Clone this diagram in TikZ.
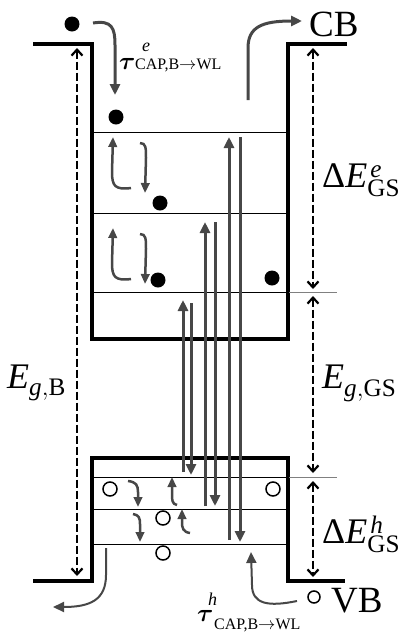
\documentclass[tikz,border=0pt]{standalone}
\usepackage{fontspec}
\setmainfont{Liberation Serif}
\usepackage{bm}
\usetikzlibrary{arrows.meta, positioning}

\begin{document}
\begin{tikzpicture}[x=1pt, y=-1pt,
  edge/.style={line width=3.4pt},
  lvl/.style={line width=1pt},
  gap/.style={line width=2.8pt, dash pattern=on 8pt off 3pt,
    {Straight Barb[length=6pt,width=11pt,line width=2.2pt]}-{Straight Barb[length=6pt,width=11pt,line width=2.2pt]}},
  jump/.style={line width=3pt, draw=black!72, -{Triangle[length=11pt,width=10pt]}},
  hop/.style={line width=2.5pt, draw=black!72, -{Triangle[length=10pt,width=8.5pt]}},
  elec/.style={circle, fill=black, inner sep=0pt, minimum size=15pt},
  hole/.style={circle, draw=black, line width=1.5pt, inner sep=0pt, minimum size=14pt}]
\useasboundingbox (0,0) rectangle (403,638);

% wells
\draw [edge] (33,44) -- (92,44) -- (92,339) -- (288,339) -- (288,44) -- (347,44);
\draw [edge] (33,581) -- (92,581) -- (92,458) -- (288,458) -- (288,581) -- (345,581);
\foreach \y in {132,213,292} {
  \draw [lvl] (93,\y) -- (287,\y);
}
\foreach \y in {477,509,544} {
  \draw [lvl] (93,\y) -- (287,\y);
}
\foreach \y in {292,477} {
  \draw [lvl, black!50] (289,\y) -- (337,\y);
}

% gaps
\draw [gap] (77,48) -- (77,576);
\draw [gap] (313,48) -- (313,289);
\draw [gap] (313,296) -- (313,473);
\draw [gap] (313,481) -- (313,577);

% carriers
\node [elec] (e0) at (72,24) {};
\node [elec] (e1) at (116,117) {};
\node [elec] (e2) at (160,203) {};
\node [elec] (e3) at (158,280) {};
\node [elec] (e4) at (272,278) {};
\node [hole] (h1) at (110,489) {};
\node [hole] (h2) at (273,489) {};
\node [hole] (h3) at (163,518) {};
\node [hole] (h4) at (163,553) {};
\node [hole, minimum size=12pt] (h0) at (314,597) {};

% capture and escape
\draw [jump] (93,23) .. controls (112,20) and (115,28) .. (115,45) -- (115,95);
\draw [jump] (248,100) -- (248,48) .. controls (248,27) and (262,21) .. (302,21);
\draw [jump, line width=2pt] (106,548) -- (106,575) .. controls (106,600) and (90,607) .. (53,607);
\draw [jump, line width=2pt] (297,601) .. controls (268,607) and (252,604) .. (252,585) -- (251,552);

% relaxation
\foreach \y in {0,91} {
  \draw [hop] (131,188+\y) .. controls (115,190+\y) and (112,186+\y) .. (112,172+\y) -- (113,137+\y);
  \draw [hop] (140,143+\y) .. controls (146,143+\y) and (146,148+\y) .. (146,158+\y) -- (145,193+\y);
}
\draw [hop] (128,481) .. controls (136,482) and (138,485) .. (138,492) -- (138,507);
\draw [hop] (133,514) .. controls (139,515) and (140,518) .. (140,524) -- (140,542);
\draw [hop] (177,505) .. controls (172,504) and (172,500) .. (172,494) -- (172,477);
\draw [hop] (190,533) .. controls (183,532) and (182,528) .. (182,522) -- (182,509);

% transitions
\draw [jump] (183,472) -- (183,300);
\draw [jump] (191,303) -- (191,475);
\draw [jump] (205,506) -- (205,222);
\draw [jump] (215,222) -- (215,506);
\draw [jump] (229,540) -- (229,137);
\draw [jump] (240,137) -- (240,542);

\begin{scope}[every node/.style={inner sep=0pt, anchor=base west}]
\node [font=\fontsize{37}{38}\selectfont] (cb) at (309,36) {CB};
\node [font=\fontsize{37}{38}\selectfont] (vb) at (331,612) {VB};
\node [font=\fontsize{36}{38}\selectfont] (dee) at (322,187) {Δ\textit{E}$^{\kern3pt\mathit{e}}_{\mathrm{GS}}$};
\node [font=\fontsize{36}{38}\selectfont] (deh) at (322,543) {Δ\textit{E}$^{\kern3pt\mathit{h}}_{\mathrm{GS}}$};
\node [font=\fontsize{36}{38}\selectfont] (egs) at (322,388) {\textit{E}$_{\mathit{g},\mathrm{GS}}$};
\node [font=\fontsize{36}{38}\selectfont] (egb) at (7,388) {\textit{E}$_{\mathit{g},\mathrm{B}}$};
\node [font=\fontsize{30}{30}\selectfont] (taue) at (119,69) {$\bm{\tau}$};
\node [font=\fontsize{18}{18}\selectfont] (tauesup) at (142,51) {\textit{e}};
\node [font=\fontsize{16}{16}\selectfont] (tauesub) at (135,69) {CAP,B$\rightarrow$WL};
\node [font=\fontsize{30}{30}\selectfont] (tauh) at (197,621) {$\bm{\tau}$};
\node [font=\fontsize{18}{18}\selectfont] (tauhsup) at (208,605) {\textit{h}};
\node [font=\fontsize{16}{16}\selectfont] (tauhsub) at (214,629) {CAP,B$\rightarrow$WL};
\end{scope}
\end{tikzpicture}
\end{document}
